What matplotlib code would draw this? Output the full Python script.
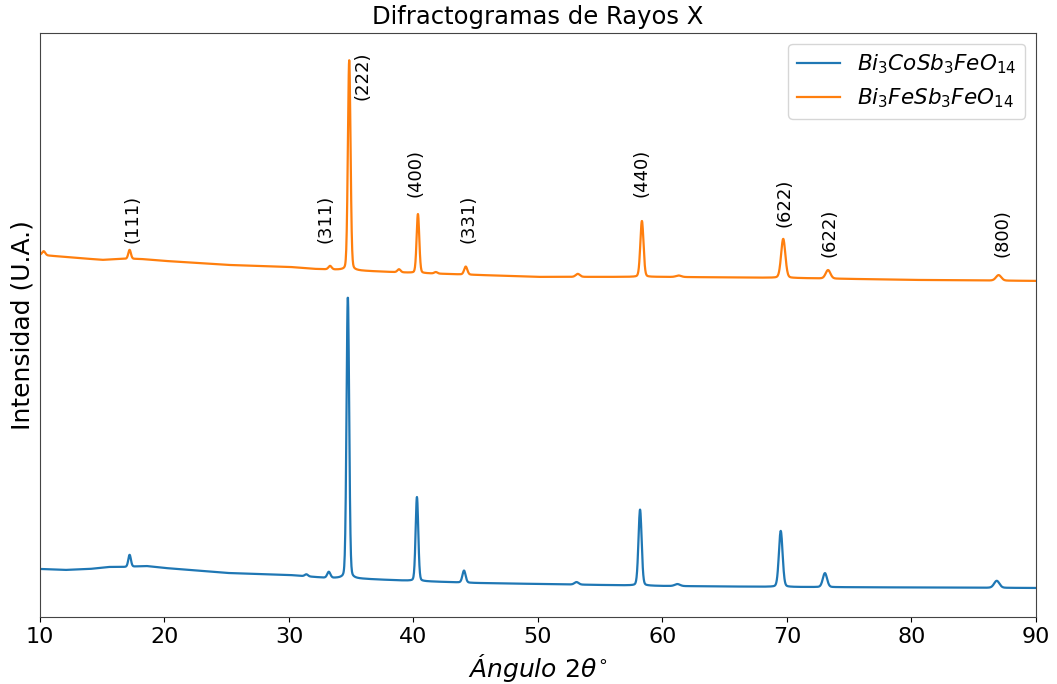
import numpy as np
import matplotlib
matplotlib.use("Agg")
import matplotlib.pyplot as plt

# --- Bi3CoSb3FeO14 -------------------------------------------------------
co_base_angle = [10, 12, 14, 15.5, 17, 18.5, 20, 22, 25, 30, 33, 36, 40, 45, 50, 55, 60, 70, 80, 90]
co_base_level = [48, 47, 48, 50, 50, 51, 49, 47, 44, 42, 39, 38, 36, 34, 33, 32, 31, 30, 29.5, 29]
co_peak_pos = [17.2, 31.4, 33.2, 34.73, 40.28, 44.06, 53.1, 58.2, 61.2, 69.5, 73.05, 86.85]
co_peak_height = [12, 2, 6, 282, 84, 12, 2.5, 76, 2, 56, 14, 7]
co_peak_fwhm = [0.25, 0.3, 0.3, 0.25, 0.25, 0.3, 0.4, 0.3, 0.5, 0.35, 0.4, 0.5]

# --- Bi3FeSb3FeO14 -------------------------------------------------------
fe_base_angle = [10, 12, 15, 16.5, 18, 20, 25, 30, 32, 36, 40, 45, 50, 57, 60, 70, 80, 90]
fe_base_level = [362, 360, 357, 358, 358, 356, 352, 350, 348, 346, 344, 342, 340, 340, 340, 339, 337, 336]
fe_peak_pos = [10.3, 17.2, 33.3, 34.84, 38.84, 40.36, 41.8, 44.2, 53.2, 58.35, 61.3, 69.7, 73.3, 87.0]
fe_peak_height = [4, 9, 3.5, 210, 3, 59, 1.5, 8, 3, 56, 1.5, 39, 8.5, 5.5]
fe_peak_fwhm = [0.3, 0.25, 0.3, 0.25, 0.3, 0.25, 0.3, 0.3, 0.4, 0.3, 0.5, 0.4, 0.45, 0.5]

# Miller indices annotated on the upper pattern
hkl_labels = ["(111)", "(311)", "(222)", "(400)", "(331)", "(440)", "(622)", "(622)", "(800)"]
hkl_x = [17.4, 32.9, 35.9, 40.2, 44.4, 58.35, 69.8, 73.4, 87.3]
hkl_y = [374, 374, 565, 420, 374, 420, 390, 360, 360]
hkl_va = ["bottom", "bottom", "top", "bottom", "bottom", "bottom", "bottom", "bottom", "bottom"]

two_theta = np.arange(10.0, 90.0001, 0.02)


def pattern(base_angle, base_level, pos, height, fwhm, eta=0.15):
    """Baseline plus pseudo-Voigt reflections."""
    y = np.interp(two_theta, base_angle, base_level)
    for c, h, w in zip(pos, height, fwhm):
        d = (two_theta - c) / (w / 2)
        gauss = np.exp(-np.log(2) * d ** 2)
        lorentz = 1.0 / (1.0 + d ** 2)
        y = y + h * ((1 - eta) * gauss + eta * lorentz)
    return y


co_int = pattern(co_base_angle, co_base_level, co_peak_pos, co_peak_height, co_peak_fwhm)
fe_int = pattern(fe_base_angle, fe_base_level, fe_peak_pos, fe_peak_height, fe_peak_fwhm)

fig = plt.figure(figsize=(10.57, 6.84), dpi=100)
ax = fig.add_axes([0.0378, 0.098, 0.9423, 0.854])

ax.plot(two_theta, co_int, color="#1f77b4", lw=1.6, label=r"$Bi_3CoSb_3FeO_{14}$")
ax.plot(two_theta, fe_int, color="#ff7f0e", lw=1.6, label=r"$Bi_3FeSb_3FeO_{14}$")

for lab, x, y, va in zip(hkl_labels, hkl_x, hkl_y, hkl_va):
    ax.text(x, y, lab, rotation=90, ha="center", va=va, fontsize=13)

ax.set_xlim(10, 90)
ax.set_ylim(0, 584)
ax.set_yticks([])
ax.set_xticks(np.arange(10, 91, 10))
ax.tick_params(axis="x", labelsize=16)
for s in ax.spines.values():
    s.set_color("#444444")

ax.set_title("Difractogramas de Rayos X", fontsize=17.5)
ax.set_xlabel(r"$Ángulo\ 2\theta^{\circ}$", fontsize=18)
ax.set_ylabel("Intensidad (U.A.)", fontsize=18)
ax.legend(loc="upper right", fontsize=15.5)

fig.savefig("out.png", dpi=100)
